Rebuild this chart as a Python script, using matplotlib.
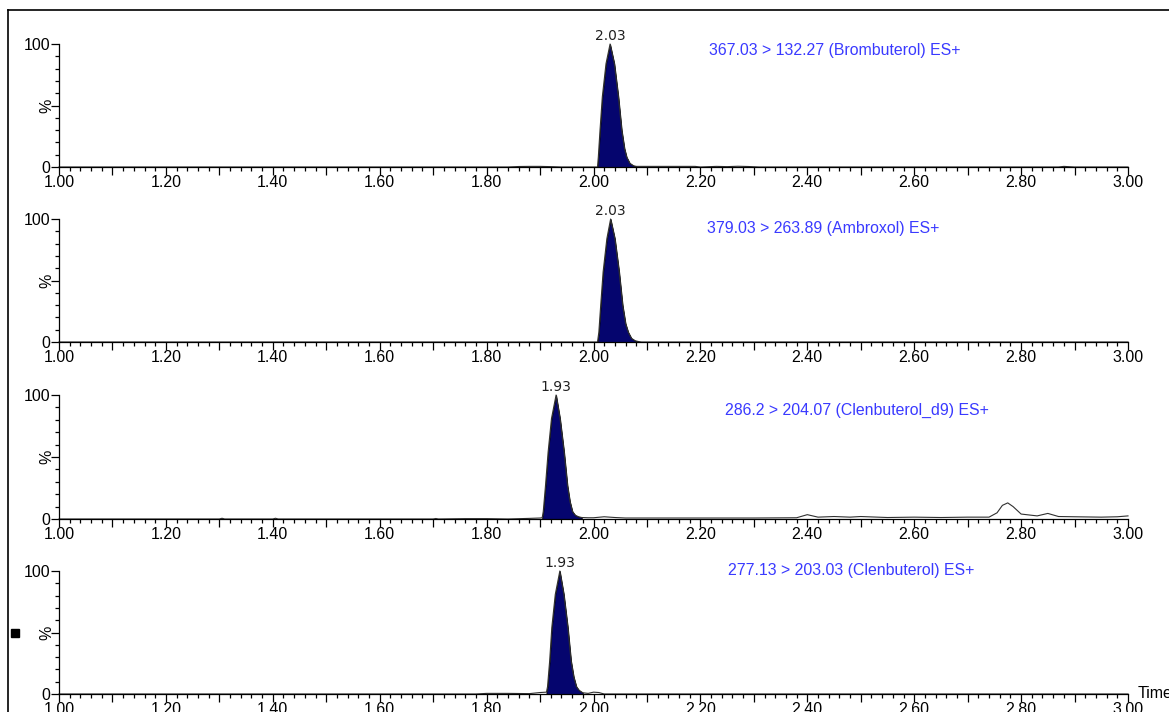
import numpy as np
import matplotlib
matplotlib.use('Agg')
import matplotlib.pyplot as plt
from matplotlib.ticker import MultipleLocator, FixedLocator, FuncFormatter
from matplotlib.lines import Line2D
from matplotlib.patches import Rectangle

plt.rcParams['font.family'] = ['Liberation Sans', 'DejaVu Sans']

# traces: time (min), relative intensity (%)
brom_t = [1.00, 1.84, 1.86, 1.88, 1.90, 1.92, 1.94, 2.000, 2.0075, 2.009, 2.0122,
          2.0165, 2.0234, 2.031, 2.039, 2.0466, 2.0528, 2.058, 2.0621, 2.068, 2.075,
          2.080, 2.10, 2.15, 2.19, 2.20, 2.23, 2.25, 2.27, 2.29, 2.31, 2.87, 2.88,
          2.90, 3.00]
brom_i = [0, 0, 0.4, 0.5, 0.5, 0.3, 0, 0, 0, 8, 30,
          57, 84, 100, 84, 57, 30, 15, 8, 3, 1,
          0.5, 0.5, 0.5, 0.5, 0, 0.5, 0.3, 0.6, 0.4, 0, 0, 0.5,
          0, 0]

ambr_t = [1.00, 2.000, 2.0075, 2.010, 2.0135, 2.018, 2.025, 2.032, 2.040, 2.048,
          2.0545, 2.060, 2.065, 2.071, 2.078, 2.085, 2.09, 3.00]
ambr_i = [0, 0, 0, 8, 30, 57, 84, 100, 84, 57,
          30, 15, 8, 3, 1, 0.3, 0, 0]

cld9_t = [1.00, 1.30, 1.305, 1.31, 1.40, 1.405, 1.41, 1.70, 1.705, 1.71, 1.76, 1.80,
          1.84, 1.88, 1.90, 1.904, 1.906, 1.9102, 1.9151, 1.9214, 1.930, 1.9374,
          1.945, 1.9513, 1.956, 1.9607, 1.966, 1.972, 1.978, 1.99, 2.00, 2.02,
          2.04, 2.06, 2.10, 2.20, 2.30, 2.38, 2.40, 2.42, 2.45, 2.48, 2.50, 2.55, 2.60,
          2.65, 2.70, 2.74, 2.755, 2.765, 2.775, 2.785, 2.80, 2.83, 2.85, 2.87, 2.90,
          2.95, 2.98, 3.00]
cld9_i = [0, 0, 0.6, 0, 0, 0.6, 0, 0, 0.4, 0, 0.3, 0.3,
          0, 0.5, 0.8, 1, 6, 27, 54, 81, 100, 81,
          54, 27, 14, 6, 3, 1.8, 1.2, 1, 1, 1.8,
          1.2, 0.8, 0.8, 0.8, 0.8, 1, 3.5, 1.5, 2, 1.5, 2, 1.2, 1.5,
          1.2, 1.5, 1.5, 5, 11, 13, 10, 4, 2.5, 4.5, 2, 1.8,
          1.5, 1.8, 2.5]

clen_t = [1.00, 1.78, 1.80, 1.84, 1.88, 1.90, 1.912, 1.914, 1.918, 1.922, 1.9285,
          1.937, 1.9445, 1.952, 1.958, 1.963, 1.968, 1.973, 1.980, 1.99,
          2.00, 2.01, 2.02, 2.04, 3.00]
clen_i = [0, 0, 0.5, 0.5, 0.3, 1.2, 1.5, 6, 27, 54, 81,
          100, 81, 54, 27, 14, 6, 3, 1, 0.5,
          1.5, 1.2, 0, 0, 0]

# integrated peak window (start, end), apex label
peak_win = [(2.0075, 2.080), (2.0075, 2.085), (1.904, 1.978), (1.912, 1.980)]
apex_t = [2.031, 2.032, 1.930, 1.937]
apex_lbl = ['2.03', '2.03', '1.93', '1.93']
channels = ['367.03 > 132.27 (Brombuterol) ES+',
            '379.03 > 263.89 (Ambroxol) ES+',
            '286.2 > 204.07 (Clenbuterol_d9) ES+',
            '277.13 > 203.03 (Clenbuterol) ES+']

traces = [(brom_t, brom_i), (ambr_t, ambr_i), (cld9_t, cld9_i), (clen_t, clen_i)]

fig = plt.figure(figsize=(11.69, 7.12), dpi=100)
W, H = 1169.0, 712.0
tops = [44, 219, 395, 571]
bots = [167, 342, 519, 694]
x0, x1 = 59, 1128
chan_px = [709, 707, 725, 728]
chan_py = [50, 228, 410, 570]

for k in range(4):
    ax = fig.add_axes([x0 / W, 1 - bots[k] / H, (x1 - x0) / W, (bots[k] - tops[k]) / H])
    t = np.array(traces[k][0])
    y = np.array(traces[k][1])
    ax.plot(t, y, color='#303030', lw=0.8, clip_on=False)
    a, b = peak_win[k]
    m = (t >= a) & (t <= b)
    ax.fill_between(t[m], 0, y[m], color='#05056e', lw=0.6, edgecolor='black', clip_on=False)
    ax.set_xlim(1.0, 3.0)
    ax.set_ylim(0, 100)
    for s in ['top', 'right']:
        ax.spines[s].set_visible(False)
    ax.spines['left'].set_linewidth(0.9)
    ax.spines['bottom'].set_linewidth(0.9)

    ax.xaxis.set_major_locator(MultipleLocator(0.1))
    ax.xaxis.set_minor_locator(MultipleLocator(0.02))
    ax.xaxis.set_major_formatter(FuncFormatter(
        lambda v, p: ('%.2f' % v) if int(round(v * 10)) % 2 == 0 else ''))
    ax.tick_params(axis='x', which='major', direction='out', length=6, width=0.9,
                   labelsize=11.5, pad=0)
    ax.tick_params(axis='x', which='minor', direction='out', length=3, width=0.9)

    ax.yaxis.set_major_locator(FixedLocator([0, 50, 100]))
    ax.yaxis.set_minor_locator(MultipleLocator(10))
    ax.yaxis.set_major_formatter(FuncFormatter(
        lambda v, p: '' if v == 50 else '%d' % v))
    ax.tick_params(axis='y', which='major', direction='out', length=6, width=0.9,
                   labelsize=11.5, pad=0)
    ax.tick_params(axis='y', which='minor', direction='out', length=3, width=0.9)
    ax.text(-0.004, 0.5, '%', transform=ax.transAxes, rotation=90,
            ha='right', va='center', fontsize=11.5)

    ax.annotate(apex_lbl[k], (apex_t[k], 100), xytext=(0, 1), textcoords='offset points',
                ha='center', va='bottom', fontsize=10, family=['DejaVu Sans'],
                color='#202020', annotation_clip=False)
    fig.text(chan_px[k] / W, 1 - chan_py[k] / H, channels[k], color='#3a3aff',
             fontsize=11.4, ha='left', va='center')

    if k == 3:
        ax.text(1.009, 0, 'Time', transform=ax.transAxes, ha='left', va='center',
                fontsize=11.5)

# frame around the plot window
fig.add_artist(Line2D([8 / W, 8 / W], [0, 1 - 10 / H], color='black', lw=1.2))
fig.add_artist(Line2D([8 / W, 1], [1 - 10 / H, 1 - 10 / H], color='black', lw=1.2))
fig.add_artist(Rectangle((11 / W, 1 - 637 / H), 8 / W, 8 / H, color='black',
                         transform=fig.transFigure))

fig.savefig('out.png', dpi=100)
